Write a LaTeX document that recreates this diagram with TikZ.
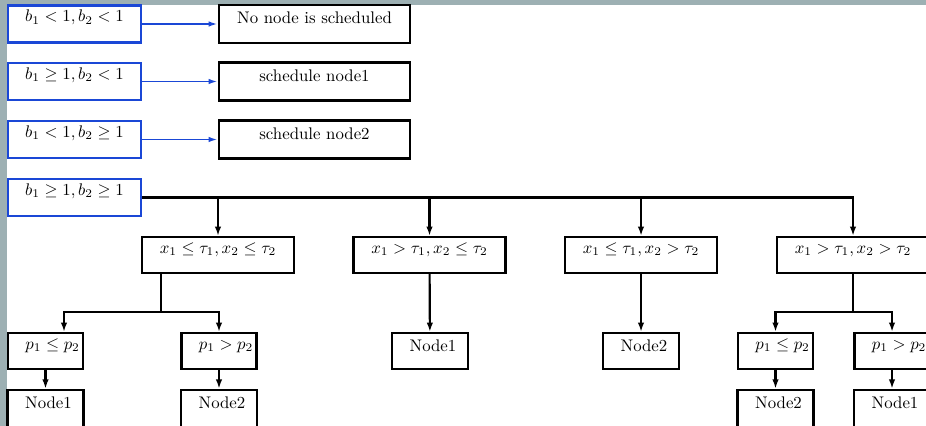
\documentclass[tikz,border=0pt]{standalone}
\usepackage{amsmath,amssymb}
\usetikzlibrary{arrows.meta,calc}
\definecolor{Cond}{HTML}{1A47D6}
\definecolor{Frame}{HTML}{9DB0B3}
\tikzset{box/.style={draw,line width=1.3pt,inner xsep=1pt,inner ysep=0pt},
  mbox/.style={box,text height=9.7pt,text depth=11.7pt},
  tbox/.style={box,text height=11.2pt,text depth=10.2pt},
  flow/.style={-{Latex[length=5.5pt,width=3.8pt]},line width=1.3pt},
  bflow/.style={-{Latex[length=5.5pt,width=3.2pt]},line width=1.1pt,draw=Cond}}

\begin{document}
\begin{tikzpicture}[
  x=.595pt,y=-.595pt,
  cond/.style={mbox,draw=Cond,minimum width=79.1pt,text depth=12.3pt},
  act/.style={tbox,minimum width=113.6pt,text depth=11.4pt},
  split/.style={mbox,minimum width=90.4pt},
  pbox/.style={mbox,minimum width=44.6pt,execute at begin node={\hspace{8.4pt}}},
  leaf/.style={tbox,minimum width=45.2pt,execute at begin node={\hspace{3.6pt}}}
]
\useasboundingbox (0,0) rectangle (926,426);
\clip (0,0) rectangle (926,426);
\fill[Frame] (0,0) rectangle (926,426);
\fill[white] (7,5) rectangle (926,426);

\node[cond] (lowlow) at (74.5,24) {$b_1<1,b_2<1$};
\node[cond] (highlow) at (74.5,81.5) {$b_1\geq 1,b_2<1$};
\node[cond] (lowhigh) at (74.5,139.5) {$b_1<1,b_2\geq 1$};
\node[cond] (highhigh) at (74.5,197.5) {$b_1\geq 1,b_2\geq 1$};
\node[act] (none) at (314.5,24) {No node is scheduled};
\node[act] (schedA) at (314.5,81.5) {schedule node1};
\node[act] (schedB) at (314.5,139.5) {schedule node2};
\draw[bflow] (lowlow)--(none);
\draw[bflow] (highlow)--(schedA);
\draw[bflow] (lowhigh)--(schedB);

\node[split] (ll) at (218,255) {$x_1\leq\tau_1,x_2\leq\tau_2$};
\node[split] (gl) at (429.5,255) {$x_1>\tau_1,x_2\leq\tau_2$};
\node[split] (lg) at (641,255) {$x_1\leq\tau_1,x_2>\tau_2$};
\node[split] (gg) at (853,255) {$x_1>\tau_1,x_2>\tau_2$};
\draw[flow] (highhigh.east) -| (gg);
\draw[flow] (highhigh.east -| ll) -- (ll);
\draw[flow] (highhigh.east -| gl) -- (gl);
\draw[flow] (highhigh.east -| lg) -- (lg);

\node[pbox] (pleA) at (45.5,351) {$p_1\leq p_2$};
\node[pbox] (pgtA) at (219,351) {$p_1>p_2$};
\node[leaf] (oneB) at (430,351) {Node1};
\node[leaf] (twoC) at (641,351) {Node2};
\node[pbox] (pleD) at (775.5,351) {$p_1\leq p_2$};
\node[pbox] (pgtD) at (892,351) {$p_1>p_2$};
\draw[flow] (gl) -- (oneB);
\draw[flow] (lg) -- (twoC);

\coordinate (forkA) at (161,312);
\coordinate (dropA) at (64,312);
\draw[line width=1.3pt] (ll.south -| forkA) -- (forkA);
\draw[flow] (forkA) -- (dropA) -- (dropA |- pleA.north);
\draw[flow] (forkA) -| (pgtA);
\coordinate (forkD) at (853,312);
\draw[line width=1.3pt] (gg.south) -- (forkD);
\draw[flow] (forkD) -| (pleD);
\draw[flow] (forkD) -| (pgtD);

\node[leaf,text depth=14pt] (nodeA) at (45.5,411) {Node1};
\node[leaf,text depth=14pt] (nodeB) at (219,411) {Node2};
\node[leaf,text depth=14pt] (nodeC) at (775.5,411) {Node2};
\node[leaf,text depth=14pt] (nodeD) at (892,411) {Node1};
\draw[flow] (pleA) -- (nodeA);
\draw[flow] (pgtA) -- (nodeB);
\draw[flow] (pleD) -- (nodeC);
\draw[flow] (pgtD) -- (nodeD);
\end{tikzpicture}
\end{document}
